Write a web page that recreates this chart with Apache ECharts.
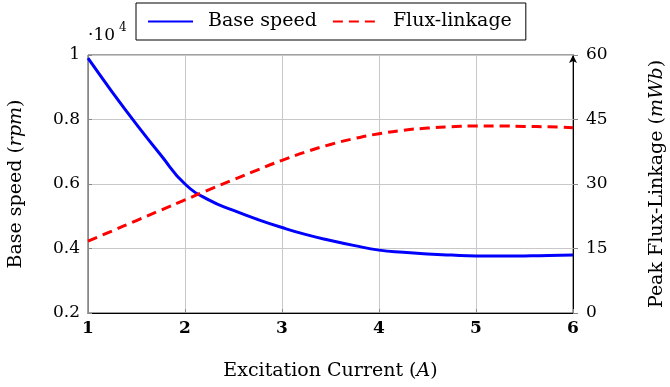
<!DOCTYPE html>
<html>
<head>
<meta charset="utf-8">
<script src="https://cdn.jsdelivr.net/npm/echarts@6/dist/echarts.min.js"></script>
<style>
  html, body { margin: 0; padding: 0; background: #fff; }
  #chart { width: 670px; height: 387px; }
</style>
</head>
<body>
<div id="chart"></div>
<script>
// excitation current (A)
const current = [1, 1.25, 1.5, 1.75, 2, 2.25, 2.5, 2.75, 3, 3.25, 3.5, 3.75, 4,
                 4.25, 4.5, 4.75, 5, 5.25, 5.5, 5.75, 6];
// base speed (rpm)
const baseSpeed = [9900, 8850, 7850, 6900, 6000, 5500, 5180, 4900, 4650, 4430, 4250, 4090, 3950,
                   3880, 3830, 3795, 3770, 3765, 3770, 3780, 3800];
// peak flux-linkage (mWb)
const fluxLinkage = [16.7, 19.1, 21.5, 23.9, 26.3, 28.7, 31.0, 33.3, 35.5, 37.5, 39.2, 40.6, 41.7,
                     42.5, 43.0, 43.3, 43.5, 43.5, 43.4, 43.3, 43.1];

const FONT = 'DejaVu Serif';
const FS_NAME = 19;
const FS_TICK = 17;

const chart = echarts.init(document.getElementById('chart'));

const richName = {
  n: { fontFamily: FONT, fontSize: FS_NAME, color: '#000' },
  i: { fontFamily: FONT, fontSize: FS_NAME, color: '#000', fontStyle: 'italic' }
};

const option = {
  animation: false,
  textStyle: { fontFamily: FONT },
  grid: {
    left: 88, right: 97, top: 55, bottom: 74,
    outerBoundsMode: 'none',
    containLabel: false,
    show: true, borderColor: '#444', borderWidth: 1
  },
  legend: {
    top: 3,
    left: 136,
    padding: [9, 14, 9, 11],
    borderColor: '#000',
    borderWidth: 1,
    backgroundColor: '#fff',
    itemGap: 15,
    itemWidth: 45,
    itemHeight: 14,
    itemStyle: { opacity: 0 },
    textStyle: { fontFamily: FONT, fontSize: FS_NAME, color: '#000', padding: [0, 0, 0, 10] },
    data: ['Base speed', 'Flux-linkage']
  },
  xAxis: {
    type: 'value',
    min: 1, max: 6, interval: 1,
    name: '{n|Excitation Current (}{i|A}{n|)}',
    nameLocation: 'middle',
    nameGap: 49,
    nameTextStyle: { rich: richName },
    axisLine: { lineStyle: { color: '#000', width: 1 } },
    axisTick: { show: true, inside: true, length: 4, lineStyle: { color: '#888' } },
    axisLabel: { fontFamily: FONT, fontSize: FS_TICK, color: '#000', fontWeight: 'bold', margin: 7 },
    splitLine: { show: true, lineStyle: { color: '#c8c8c8', width: 1 } }
  },
  yAxis: [
    {
      type: 'value',
      min: 2000, max: 10000, interval: 2000,
      position: 'left',
      name: '{n|Base speed (}{i|rpm}{n|)}',
      nameLocation: 'middle',
      nameRotate: 90,
      nameGap: 62,
      nameTextStyle: { rich: richName },
      axisLine: { show: true, lineStyle: { color: '#888', width: 1 } },
      axisTick: { show: true, inside: true, length: 4, lineStyle: { color: '#888' } },
      axisLabel: {
        fontFamily: FONT, fontSize: FS_TICK, color: '#000', margin: 8,
        formatter: v => String(+(v / 10000).toFixed(1))
      },
      splitLine: { show: true, lineStyle: { color: '#c8c8c8', width: 1 } }
    },
    {
      type: 'value',
      min: 0, max: 60, interval: 15,
      position: 'right',
      name: '{n|Peak Flux-Linkage (}{i|mWb}{n|)}',
      nameLocation: 'middle',
      nameRotate: 90,
      nameGap: 75,
      nameTextStyle: { rich: richName },
      axisLine: {
        show: true,
        lineStyle: { color: '#000', width: 1 },
        symbol: ['none', 'arrow'],
        symbolSize: [6, 8]
      },
      axisTick: { show: true, inside: false, length: 5, lineStyle: { color: '#888' } },
      axisLabel: { fontFamily: FONT, fontSize: FS_TICK, color: '#000', margin: 13 },
      splitLine: { show: false }
    }
  ],
  graphic: [
    { type: 'text', left: 88, top: 27, style: { text: '\u00b710', font: FS_TICK + 'px "' + FONT + '"', fill: '#000' } },
    { type: 'text', left: 119, top: 22, style: { text: '4', font: '12px "' + FONT + '"', fill: '#000' } }
  ],
  series: [
    {
      name: 'Base speed',
      type: 'line',
      yAxisIndex: 0,
      smooth: 0.5,
      showSymbol: false,
      symbol: 'none',
      lineStyle: { color: '#0000ff', width: 3 },
      itemStyle: { color: '#0000ff' },
      data: current.map((x, i) => [x, baseSpeed[i]])
    },
    {
      name: 'Flux-linkage',
      type: 'line',
      yAxisIndex: 1,
      smooth: 0.5,
      showSymbol: false,
      symbol: 'none',
      lineStyle: { color: '#ff0000', width: 3, type: [10, 6] },
      itemStyle: { color: '#ff0000' },
      data: current.map((x, i) => [x, fluxLinkage[i]])
    }
  ]
};

chart.setOption(option);
</script>
</body>
</html>
